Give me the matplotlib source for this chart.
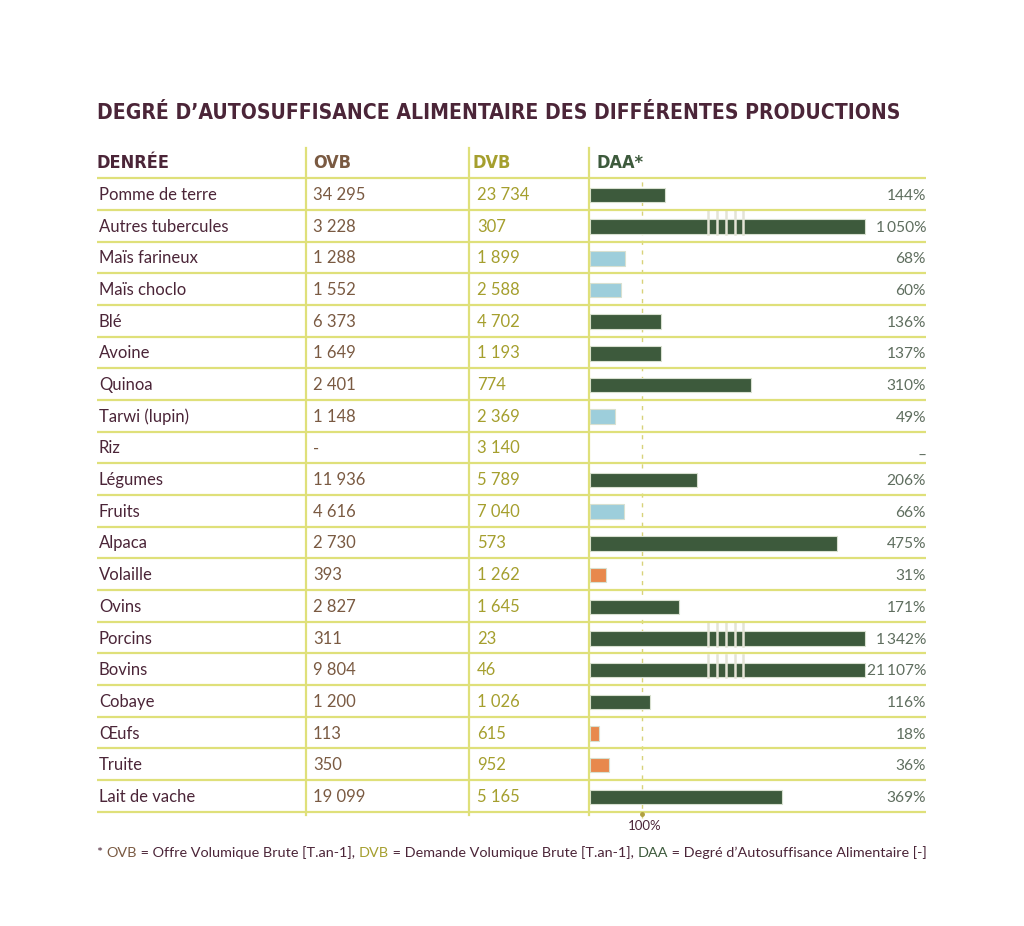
import matplotlib.pyplot as plt

foods = ['Pomme de terre', 'Autres tubercules', 'Maïs farineux', 'Maïs choclo', 'Blé',
         'Avoine', 'Quinoa', 'Tarwi (lupin)', 'Riz', 'Légumes', 'Fruits', 'Alpaca',
         'Volaille', 'Ovins', 'Porcins', 'Bovins', 'Cobaye', 'Œufs', 'Truite', 'Lait de vache']
ovb = [34295, 3228, 1288, 1552, 6373, 1649, 2401, 1148, None, 11936, 4616, 2730,
       393, 2827, 311, 9804, 1200, 113, 350, 19099]
dvb = [23734, 307, 1899, 2588, 4702, 1193, 774, 2369, 3140, 5789, 7040, 573,
       1262, 1645, 23, 46, 1026, 615, 952, 5165]
daa = [144, 1050, 68, 60, 136, 137, 310, 49, None, 206, 66, 475,
       31, 171, 1342, 21107, 116, 18, 36, 369]
kind = ['veg'] * 11 + ['ani'] * 9

W, H = 1024, 926
PURPLE = '#4b2538'
BROWN = '#7a5a42'
OLIVE = '#a59f2e'
DGREEN = '#3d5a3c'
BLUE = '#9dcedb'
ORANGE = '#e8884c'
LINE = '#dfe07a'
PCT = '#5f6e5f'
BODY = ['Lato', 'DejaVu Sans']

row0, step = 194, 31.68
top = row0 - step / 2
n = len(foods)


def fmt(v, sep=' '):
    return '-' if v is None else '{:,}'.format(v).replace(',', sep)


fig = plt.figure(figsize=(W / 100, H / 100), dpi=100)
fig.patch.set_facecolor('white')

# bar column: 0 % at x=590, 100 % at x=642
px_per_pct = 0.52
bx0, bx1 = 590, 926
bax = fig.add_axes([bx0 / W, 1 - (top + n * step) / H, (bx1 - bx0) / W, n * step / H])
bax.set_zorder(0)
bax.set_xlim(0, (bx1 - bx0) / px_per_pct)
bax.set_ylim(n - 0.5, -0.5)
bax.axis('off')

ax = fig.add_axes([0, 0, 1, 1])
ax.set_zorder(1)
ax.set_xlim(0, W)
ax.set_ylim(H, 0)
ax.axis('off')
r = fig.canvas.get_renderer()

# title, fitted to the width of the table
t = ax.text(97, 119, 'DEGRÉ D’AUTOSUFFISANCE ALIMENTAIRE DES DIFFÉRENTES PRODUCTIONS',
            family='DejaVu Sans', stretch='condensed', weight='heavy', color=PURPLE, fontsize=20)
w = t.get_window_extent(r).width
t.set_fontsize(20 * 798 / w)

# header
for x, lab, c in [(97, 'DENRÉE', PURPLE), (313, 'OVB', BROWN), (473, 'DVB', OLIVE), (597, 'DAA*', DGREEN)]:
    ax.text(x, 168, lab, family='DejaVu Sans', stretch='condensed', weight='heavy',
            color=c, fontsize=13)

# grid lines
for k in range(n + 1):
    ax.plot([97, 926], [top + k * step] * 2, color=LINE, lw=1.6, solid_capstyle='butt')
for x in [306, 469, 589]:
    ax.plot([x, x], [148, top + n * step + 3], color=LINE, lw=1.6)

# table text
for i in range(n):
    y = row0 + 6 + i * step
    ax.text(99, y, foods[i], family=BODY, color=PURPLE, fontsize=12)
    ax.text(313, y, fmt(ovb[i]), family=BODY, color=BROWN, fontsize=12)
    ax.text(477, y, fmt(dvb[i]), family=BODY, color=OLIVE, fontsize=12)
    lab = '_' if daa[i] is None else fmt(daa[i], '\u2009') + '%'
    ax.text(926, y, lab, family=BODY, color=PCT, fontsize=11.2, ha='right')

cap = 528
breaks = [227, 244, 262, 278, 295]
for i, v in enumerate(daa):
    if v is None:
        continue
    if v >= 100:
        c = DGREEN
    elif kind[i] == 'veg':
        c = BLUE
    else:
        c = ORANGE
    shown = min(v, cap)
    bax.barh(i + 0.03, shown, height=0.46, color=c, edgecolor='#d8e0d0', lw=0.8, zorder=3)
    if v > cap:
        for b in breaks:
            bax.plot([b, b], [i - 0.46, i + 0.26], color='#e4e4d6', lw=1.8, zorder=4)

bax.axvline(100, ymin=-0.01, ymax=1, color='#d8d27a', lw=1, ls=(0, (3, 4)), zorder=1, clip_on=False)
ax.plot([642], [814], 'o', color='#b0a040', ms=2.5)
ax.text(645, 830, '100%', family=BODY, color=PURPLE, fontsize=9.5, ha='center')

# footnote in several colours
parts = [('* ', PURPLE), ('OVB', BROWN), (' = Offre Volumique Brute [T.an-1], ', PURPLE),
         ('DVB', OLIVE), (' = Demande Volumique Brute [T.an-1], ', PURPLE),
         ('DAA', DGREEN), (' = Degré d’Autosuffisance Alimentaire [-]', PURPLE)]
fs = 10.4
x = 97
for s, c in parts:
    tt = ax.text(x, 857, s, family=BODY, color=c, fontsize=fs)
    x += tt.get_window_extent(r).width

fig.savefig('out.png', dpi=100, facecolor='white')
